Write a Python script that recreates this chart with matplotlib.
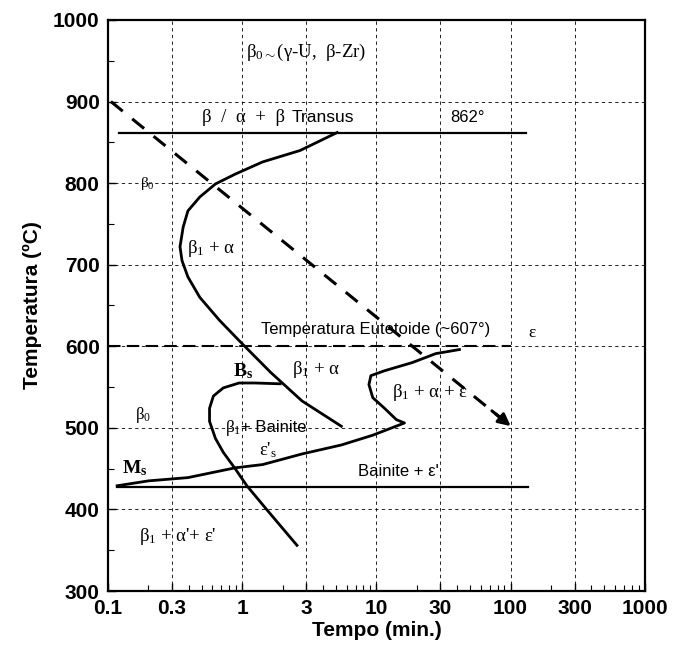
import numpy as np
import matplotlib
matplotlib.use("Agg")
import matplotlib.pyplot as plt
from matplotlib.ticker import LogLocator, MultipleLocator, NullFormatter

plt.rcParams['font.family'] = ['Liberation Sans', 'DejaVu Sans']
plt.rcParams['mathtext.fontset'] = 'custom'
plt.rcParams['mathtext.rm'] = 'Liberation Serif'
plt.rcParams['mathtext.it'] = 'Liberation Serif'
plt.rcParams['mathtext.bf'] = 'Liberation Serif:bold'

# --- data ---
transus_t = [0.12, 130]
transus_T = [862, 862]

bainite_line_t = [0.117, 135]
bainite_line_T = [428, 428]

eutect_t = [0.1, 100]
eutect_T = [600, 600]

cool_t = [0.105, 104]
cool_T = [900, 500]

# beta1 + alpha nose (upper C-curve)
c1_t = [5.1, 2.7, 1.42, 0.886, 0.632, 0.483, 0.394, 0.363, 0.344, 0.356,
        0.394, 0.483, 0.676, 0.948, 1.63, 2.79, 5.48]
c1_T = [862, 840, 826, 811, 799, 783, 766, 746, 722, 705,
        685, 660, 632, 607, 568, 533, 502]

# Bs curve (beta1 + bainite nose)
bs_t = [1.92, 1.24, 0.948, 0.723, 0.61, 0.571, 0.571, 0.632, 0.723, 0.886,
        1.084, 1.52, 2.56]
bs_T = [554, 555, 555, 549, 539, 524, 508, 487, 470, 450,
        429, 400, 356]

# Ms / eps's curve continuing into the beta1 + alpha + eps nose
ms_t = [0.117, 0.2, 0.394, 0.886, 1.42, 2.79, 5.48, 9.4, 16.2,
        14.1, 11.5, 9.4, 8.8, 9.1, 11.5, 18.5, 27.7, 41.6]
ms_T = [429, 435, 439, 451, 455, 468, 479, 491, 506,
        510, 524, 537, 553, 564, 570, 580, 591, 596]

xtick_vals = [0.1, 0.3, 1, 3, 10, 30, 100, 300, 1000]
xtick_labels = ["0.1", "0.3", "1", "3", "10", "30", "100", "300", "1000"]
ytick_vals = [300, 400, 500, 600, 700, 800, 900, 1000]

fig = plt.figure(figsize=(6.73, 6.55), dpi=100)
ax = fig.add_axes([0.1605, 0.0977, 0.7975, 0.8718])
ax.set_xscale("log")
ax.set_xlim(0.1, 1000)
ax.set_ylim(300, 1000)

ax.set_xticks(xtick_vals)
ax.set_xticklabels(xtick_labels)
ax.xaxis.set_minor_locator(LogLocator(base=10, subs=np.arange(2, 10)))
ax.xaxis.set_minor_formatter(NullFormatter())
ax.set_yticks(ytick_vals)
ax.yaxis.set_minor_locator(MultipleLocator(50))

ax.tick_params(which="both", direction="in", top=False, right=False)
ax.tick_params(which="major", length=6, width=1, pad=6)
ax.tick_params(which="minor", length=4, width=0.8)
for lab in ax.get_xticklabels() + ax.get_yticklabels():
    lab.set_fontweight("bold")
    lab.set_fontsize(15)

ax.grid(True, which="major", color="k", lw=0.6, ls=(0, (4, 4)))
for s in ax.spines.values():
    s.set_linewidth(1.6)

# lines
ax.plot(transus_t, transus_T, color="k", lw=1.6)
ax.plot(bainite_line_t, bainite_line_T, color="k", lw=1.6)
ax.plot(eutect_t, eutect_T, color="k", lw=1.5, ls=(0, (6, 3)))
ax.plot(c1_t, c1_T, color="k", lw=2)
ax.plot(bs_t, bs_T, color="k", lw=2)
ax.plot(ms_t, ms_T, color="k", lw=2)
ax.plot(cool_t, cool_T, color="k", lw=2.2, ls=(0, (5, 4)))
ax.annotate("", xy=(cool_t[1], cool_T[1]), xytext=(70, 523),
            arrowprops=dict(arrowstyle="-|>", color="k", lw=2.2,
                            mutation_scale=18))

# labels (serif ones in a Times-like face, the rest Arial-like)
sf = dict(color="k", ha="center", va="center", family="Liberation Serif")
ss = dict(color="k", ha="center", va="center", family="Liberation Sans")
ax.text(3.0, 960, r"β$_{0\sim}$(γ-U,  β-Zr)", fontsize=13.5, **sf)
ax.text(2.1, 880, "β  /  α  +  β", fontsize=13.5, **dict(sf, ha="right"))
ax.text(2.35, 880, "Transus", fontsize=12.5, **dict(ss, ha="left"))
ax.text(48, 880, "862°", fontsize=12, **ss)
ax.text(0.198, 799, r"β$_0$", fontsize=11, **sf)
ax.text(0.583, 720, r"β$_1$ + α", fontsize=13.5, **sf)
ax.text(9.9, 620, "Temperatura Eutetoide (~607°)", fontsize=12, **ss)
ax.text(145, 616, "ε", fontsize=12.5, **sf)
ax.text(1.01, 570, r"$\mathbf{B_s}$", fontsize=14, **sf)
ax.text(3.54, 571, r"β$_1$ + α", fontsize=13.5, **sf)
ax.text(25, 543, r"β$_1$ + α + ε", fontsize=13.5, **sf)
ax.text(0.181, 516, r"β$_0$", fontsize=12, **sf)
ax.text(0.98, 500, r"β$_1$", fontsize=12.5, **dict(sf, ha="right"))
ax.text(0.98, 500, "+ Bainite", fontsize=12, **dict(ss, ha="left"))
ax.text(1.57, 473, r"ε'$_\mathrm{s}$", fontsize=13.5, **sf)
ax.text(0.158, 451, r"$\mathbf{M_s}$", fontsize=14, **sf)
ax.text(14.6, 447, "Bainite + ε'", fontsize=12, **ss)
ax.text(0.332, 367, r"β$_1$ + α'+ ε'", fontsize=13.5, **sf)

ax.set_xlabel("Tempo (min.)", fontsize=15, fontweight="bold", labelpad=2)
ax.set_ylabel("Temperatura (ºC)", fontsize=15, fontweight="bold", labelpad=8)

fig.savefig("out.png", dpi=100)
